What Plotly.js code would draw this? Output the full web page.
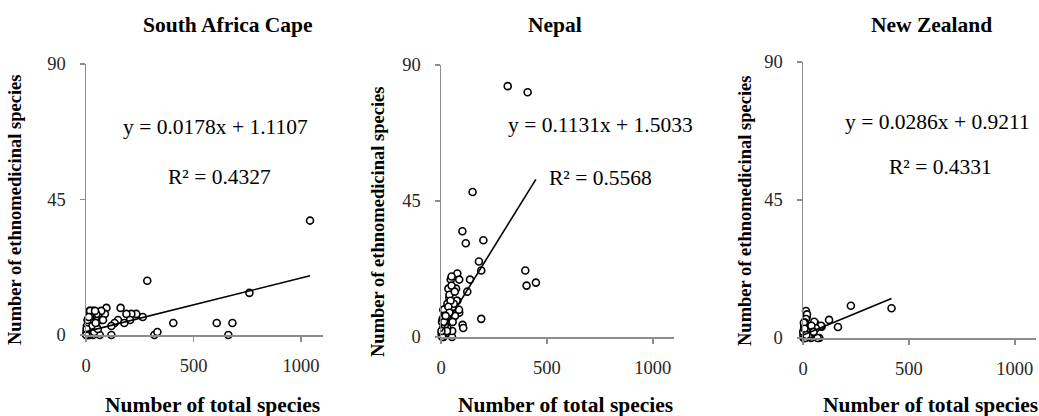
<!DOCTYPE html>
<html>
<head>
<meta charset="utf-8">
<script src="https://cdn.plot.ly/plotly-3.0.1.min.js"></script>
<style>html,body{margin:0;padding:0;background:#fff;}#chart{width:1039px;height:416px;}</style>
</head>
<body>
<div id="chart"></div>
<script>
// ---- data ----
const panelTitles = ["South Africa Cape", "Nepal", "New Zealand"];
const xTitle = "Number of total species";
const yTitle = "Number of ethnomedicinal species";
const xTickVals = [0, 500, 1000];
const yTickVals = [0, 45, 90];

const capeX = [1042,760,285,406,608,681,662,318,332,264, 234,211,188,161,95,88,149,133,118,118, 205,178,73,79,47,71,33,17,48,26, 64,33,10,19,42,5,8,12,15,20, 25,3,6,10,14,18,22,28,2,4, 7,9,13,16,30,38,55,45,1,3];
const capeY = [38,14,18,4,4,4,0,0,1,6, 7,7,7,9,9,7,5,4,3,0, 5,4,5,5,3,8,8,8,7,6, 0,0,0,8,8,2,3,4,5,6, 1,0,1,2,3,0,2,4,1,3, 5,0,6,2,3,1,2,4,0,2];

const nepalX = [315,409,149,101,117,200,179,190,137,124, 398,404,448,190,102,105,77,86,71,46, 35,50,39,77,58,86,11,25,66,55, 46,52,53,74,85,14,30,20,40,60, 45,25,15,35,10,5,20,30,8,3, 12,18,28,40,6,2,15,22,65,50];
const nepalY = [83,81,48,35,31,32,25,22,19,15, 22,17,18,6,4,3,21,19,16,19, 16,17,13,12,10,8,9,8,7,5, 2,0,2,12,9,9,11,6,14,11, 12,4,7,10,3,5,1,3,6,1, 0,4,2,8,0,2,5,7,15,20];

const nzX = [226,418,123,165,88,14,17,19,14,57, 53,85,61,77,38,30,69,10,5,20, 25,8,12,3,6,15,22,35,45,2, 4,9,18,28,40,1,7,11,16,50];
const nzY = [10.5,9.7,5.9,3.6,3.7,8.8,6.7,7.7,6.2,4.8, 5.3,4,3.2,0,0,0.4,0,5,3,4, 2,1,2,0,4,3,1,3,2,1, 5,0,2,1,4,2,3,0,1,2];

const slopes = [0.0178, 0.1131, 0.0286];
const intercepts = [1.1107, 1.5033, 0.9211];
const r2Values = ["0.4327", "0.5568", "0.4331"];

// ---- build ----
const seriesX = [capeX, nepalX, nzX];
const seriesY = [capeY, nepalY, nzY];
const W = 1039, H = 416;
const px = v => v / W;
const py = v => 1 - v / H;
const SERIF = "'Liberation Serif', 'Times New Roman', Times, serif";

// panel geometry (pixels)
const geo = [
  {x0: 86, x1: 322.5, y0: 335, y1: 64, title: 228, yt: 15, ytc: 210, xt: 212, eq: [215,127], r2: [219,177]},
  {x0: 441, x1: 674, y0: 337, y1: 65, title: 555, yt: 378, ytc: 222, xt: 565, eq: [600,125], r2: [600,178]},
  {x0: 803, x1: 1036, y0: 338, y1: 62, title: 931, yt: 745, ytc: 211, xt: 930, eq: [937,122], r2: [940,167]}
];

const traces = [];
const layout = {
  width: W, height: H,
  margin: {l: 0, r: 0, t: 0, b: 0},
  paper_bgcolor: "#fff", plot_bgcolor: "rgba(0,0,0,0)",
  showlegend: false,
  font: {family: SERIF, color: "#000"},
  annotations: []
};

const axisColor = "#8c8c8c";
geo.forEach((g, i) => {
  const xa = i === 0 ? "x" : "x" + (i + 1);
  const ya = i === 0 ? "y" : "y" + (i + 1);
  traces.push({
    type: "scatter", mode: "markers", x: seriesX[i], y: seriesY[i],
    xaxis: xa, yaxis: ya, cliponaxis: false,
    marker: {symbol: "circle", size: 7, color: "#fff", line: {color: "#000", width: 1.6}},
    hoverinfo: "x+y"
  });
  const xmin = Math.min(...seriesX[i]), xmax = Math.max(...seriesX[i]);
  traces.push({
    type: "scatter", mode: "lines",
    x: [xmin, xmax],
    y: [slopes[i] * xmin + intercepts[i], slopes[i] * xmax + intercepts[i]],
    xaxis: xa, yaxis: ya, cliponaxis: false,
    line: {color: "#000", width: 1.6}, hoverinfo: "skip"
  });
  const xKey = i === 0 ? "xaxis" : "xaxis" + (i + 1);
  const yKey = i === 0 ? "yaxis" : "yaxis" + (i + 1);
  layout[xKey] = {
    domain: [px(g.x0), px(g.x1)], range: [0, 1100], anchor: ya,
    showgrid: false, zeroline: false, showline: true, linecolor: axisColor, linewidth: 1.5,
    ticks: "outside", ticklen: 5, tickcolor: axisColor, tickwidth: 1.5,
    tickvals: xTickVals, ticktext: xTickVals.map(String), ticklabelstandoff: 8,
    tickfont: {family: SERIF, size: 18.5, color: "#262626"}, fixedrange: true
  };
  layout[yKey] = {
    domain: [py(g.y0), py(g.y1)], range: [0, 90], anchor: xa,
    showgrid: false, zeroline: false, showline: true, linecolor: axisColor, linewidth: 1.5,
    ticks: "outside", ticklen: 5, tickcolor: axisColor, tickwidth: 1.5,
    tickvals: yTickVals, ticktext: yTickVals.map(String), ticklabelstandoff: 10,
    tickfont: {family: SERIF, size: 18.5, color: "#262626"}, fixedrange: true
  };
  const bold = {family: SERIF, size: 21.5, color: "#000", weight: "bold"};
  layout.annotations.push(
    {xref: "paper", yref: "paper", x: px(g.title), y: py(25), text: "<b>" + panelTitles[i] + "</b>",
     showarrow: false, xanchor: "center", yanchor: "middle", font: bold},
    {xref: "paper", yref: "paper", x: px(g.xt), y: py(405), text: "<b>" + xTitle + "</b>",
     showarrow: false, xanchor: "center", yanchor: "middle", font: bold},
    {xref: "paper", yref: "paper", x: px(g.yt), y: py(g.ytc), text: "<b>" + yTitle + "</b>",
     showarrow: false, xanchor: "center", yanchor: "middle", textangle: -90,
     font: {family: SERIF, size: 18.5, color: "#000"}},
    {xref: "paper", yref: "paper", x: px(g.eq[0]), y: py(g.eq[1]),
     text: "y = " + slopes[i].toFixed(4) + "x + " + intercepts[i].toFixed(4),
     showarrow: false, xanchor: "center", yanchor: "middle",
     font: {family: SERIF, size: 21.5, color: "#000"}},
    {xref: "paper", yref: "paper", x: px(g.r2[0]), y: py(g.r2[1]),
     text: "R² = " + r2Values[i],
     showarrow: false, xanchor: "center", yanchor: "middle",
     font: {family: SERIF, size: 21.5, color: "#000"}}
  );
});

Plotly.newPlot("chart", traces, layout, {displayModeBar: false, staticPlot: true});
</script>
</body>
</html>
